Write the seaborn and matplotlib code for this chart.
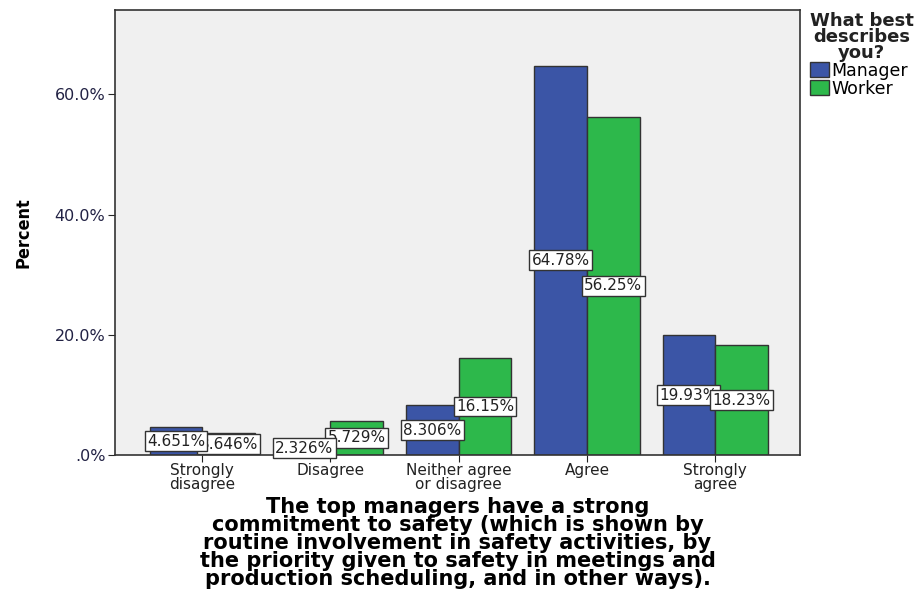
import pandas as pd
import matplotlib
matplotlib.use("Agg")
import matplotlib.pyplot as plt
import seaborn as sns

# response categories and percentages per group
categories = ["Strongly\ndisagree", "Disagree", "Neither agree\nor disagree", "Agree", "Strongly\nagree"]
manager_pct = [4.651, 2.326, 8.306, 64.78, 19.93]
worker_pct = [3.646, 5.729, 16.15, 56.25, 18.23]
groups = ["Manager", "Worker"]

manager_lbl = ["4.651%", "2.326%", "8.306%", "64.78%", "19.93%"]
worker_lbl = ["3.646%", "5.729%", "16.15%", "56.25%", "18.23%"]

df = pd.DataFrame({
    "Response": categories * 2,
    "Percent": manager_pct + worker_pct,
    "Group": [groups[0]] * 5 + [groups[1]] * 5,
})

sns.set_style("white")
plt.rcParams["font.family"] = ["DejaVu Sans"]

fig = plt.figure(figsize=(9.23, 5.90), dpi=100)
ax = fig.add_axes([0.1246, 0.2288, 0.742, 0.754])
ax.set_facecolor("#f0f0f0")

palette = {"Manager": "#3b55a6", "Worker": "#2db84b"}
sns.barplot(data=df, x="Response", y="Percent", hue="Group", order=categories,
            hue_order=groups, palette=palette, width=0.82, saturation=1,
            edgecolor="#333333", linewidth=1.0, ax=ax)

# value labels in the middle of each bar; the box with the higher centre
# sits on top where two boxes touch
box = dict(boxstyle="square,pad=0.15", fc="white", ec="#333333", lw=1.0)
texts = []
for cont, lbls in zip(ax.containers, [manager_lbl, worker_lbl]):
    texts.append(ax.bar_label(cont, labels=lbls, label_type="center", fontsize=11,
                              color="#222222", bbox=box))
for i in range(len(categories)):
    top_mgr = manager_pct[i] >= worker_pct[i] and i < 4
    texts[0][i].set_zorder(6 if top_mgr or i < 2 else 5)
    texts[1][i].set_zorder(5 if top_mgr or i < 2 else 6)

ax.set_ylim(0, 74)
ax.set_xlim(-0.68, 4.66)
ax.set_yticks([0, 20, 40, 60])
ax.set_yticklabels([".0%", "20.0%", "40.0%", "60.0%"], fontsize=11.5, color="#222244")
ax.tick_params(axis="x", labelsize=11, length=5, direction="out", bottom=True,
               colors="#222222", pad=1)
ax.tick_params(axis="y", length=5, direction="out", left=True, pad=2)
for lab in ax.get_xticklabels():
    lab.set_linespacing(0.85)

for sp in ax.spines.values():
    sp.set_color("#333333")
    sp.set_linewidth(1.2)

ax.set_ylabel("Percent", fontsize=13, fontweight="bold", labelpad=16, color="black",
              fontstretch="condensed")
ax.set_xlabel("The top managers have a strong\ncommitment to safety (which is shown by\n"
              "routine involvement in safety activities, by\nthe priority given to safety in meetings and\n"
              "production scheduling, and in other ways).",
              fontsize=15, fontweight="bold", linespacing=0.88, labelpad=4, color="black")

leg = ax.legend(title="What best\ndescribes\nyou?", loc="upper left",
                bbox_to_anchor=(1.012, 1.0), frameon=False, fontsize=12.5,
                title_fontproperties={"size": 13, "weight": "bold"},
                handlelength=1.1, handleheight=0.9,
                handletextpad=0.15, labelspacing=0.0, borderaxespad=0.1,
                borderpad=0.0)
leg.get_title().set_multialignment("center")
leg.get_title().set_linespacing(0.85)
leg.get_title().set_color("#222222")
for t in leg.get_texts():
    t.set_color("black")
leg._legend_box.align = "left"

fig.savefig("out.png", dpi=100)
